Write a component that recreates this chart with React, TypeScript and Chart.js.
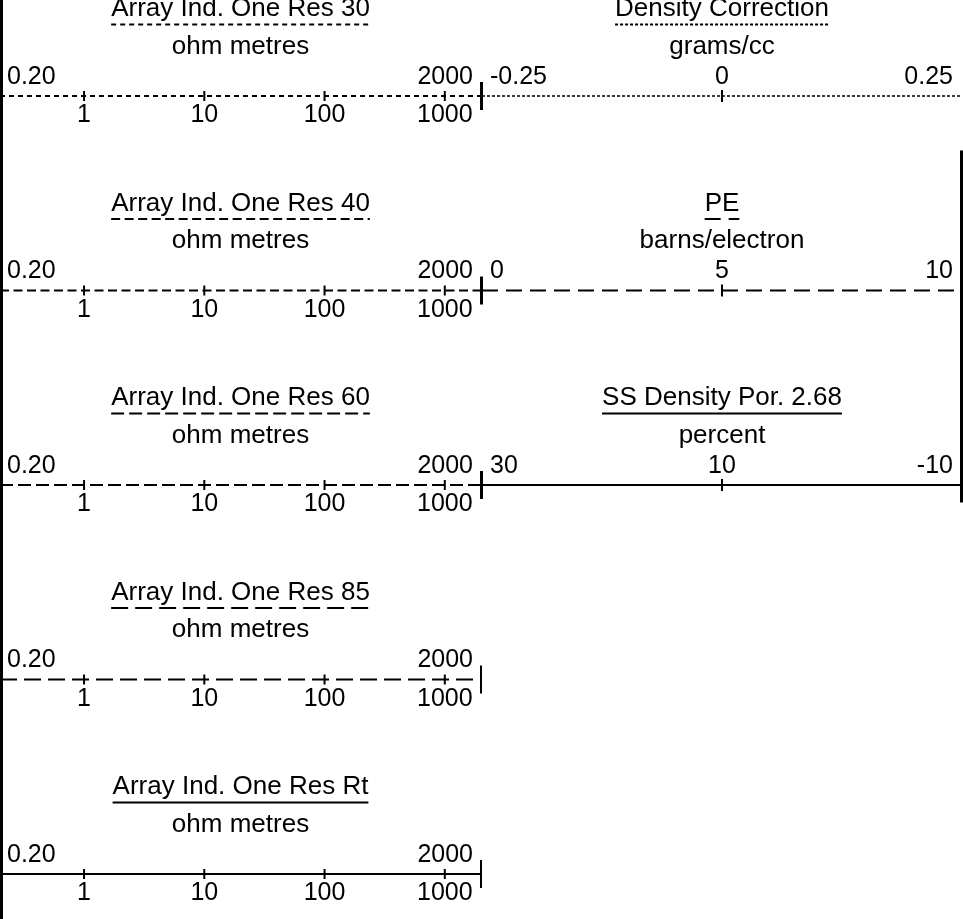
import React, { useEffect, useRef } from "react";
import { Chart, registerables } from "chart.js";

Chart.register(...registerables);

const FONT = '"Liberation Sans", Arial, Helvetica, sans-serif';

// ---------- Left track: resistivity curves (logarithmic) ----------
const resTitles = [
  "Array Ind. One Res 30",
  "Array Ind. One Res 40",
  "Array Ind. One Res 60",
  "Array Ind. One Res 85",
  "Array Ind. One Res Rt",
];
const resUnits = ["ohm metres", "ohm metres", "ohm metres", "ohm metres", "ohm metres"];
const resMin = 0.2;
const resMax = 2000;
const resMinLabel = "0.20";
const resMaxLabel = "2000";
const resTicks = [1, 10, 100, 1000];
const resTickLabels = ["1", "10", "100", "1000"];
const resDashes: number[][] = [[5, 4], [9, 4.5], [13, 5], [17, 7], []];
const resWidths = [2, 2, 2, 2, 2];

// ---------- Right track: density / PE / porosity (linear) ----------
const rTitles = ["Density Correction", "PE", "SS Density Por. 2.68"];
const rUnits = ["grams/cc", "barns/electron", "percent"];
const rLeft = [-0.25, 0, 30];
const rRight = [0.25, 10, -10];
const rMid = [0, 5, 10];
const rLeftLabels = ["-0.25", "0", "30"];
const rRightLabels = ["0.25", "10", "-10"];
const rMidLabels = ["0", "5", "10"];
const rDashes: number[][] = [[3, 2], [16, 8], []];
const rWidths = [1.5, 2, 2];

// right border of the right track spans these row positions
const rBorderRows = [0.28, 2.09];

const ROW_MIN = 0;
const ROW_MAX = 4;

const TITLE_FONT = `26px ${FONT}`;
const NUM_FONT = `25px ${FONT}`;

function drawHeader(
  ctx: CanvasRenderingContext2D,
  cx: number,
  L: number,
  title: string,
  unit: string,
  dash: number[],
  width: number
) {
  ctx.save();
  ctx.fillStyle = "#000";
  ctx.strokeStyle = "#000";
  ctx.textBaseline = "alphabetic";
  ctx.font = TITLE_FONT;
  ctx.textAlign = "center";
  ctx.fillText(title, cx, L - 80);
  const w = ctx.measureText(title).width;
  ctx.beginPath();
  ctx.setLineDash(dash);
  ctx.lineWidth = Math.max(width, 2);
  ctx.moveTo(cx - w / 2, L - 71.5);
  ctx.lineTo(cx + w / 2, L - 71.5);
  ctx.stroke();
  ctx.setLineDash([]);
  ctx.fillText(unit, cx, L - 42.5);
  ctx.restore();
}

const leftTextPlugin = {
  id: "leftText",
  afterDatasetsDraw(chart: any) {
    const ctx = chart.ctx as CanvasRenderingContext2D;
    const x = chart.scales.x;
    const y = chart.scales.y;
    const cx = (x.left + x.right) / 2;
    ctx.save();
    // left border of the log
    ctx.fillStyle = "#000";
    ctx.fillRect(x.left, 0, 3, chart.height);
    resTitles.forEach((t, i) => {
      const L = y.getPixelForValue(i);
      drawHeader(ctx, cx, L, t, resUnits[i], resDashes[i], resWidths[i]);
      ctx.fillStyle = "#000";
      ctx.font = NUM_FONT;
      ctx.textBaseline = "alphabetic";
      ctx.textAlign = "left";
      ctx.fillText(resMinLabel, x.getPixelForValue(resMin) + 7, L - 12.5);
      ctx.textAlign = "right";
      ctx.fillText(resMaxLabel, x.getPixelForValue(resMax) - 8, L - 12.5);
      ctx.textAlign = "center";
      resTicks.forEach((v, k) => {
        ctx.fillText(resTickLabels[k], x.getPixelForValue(v), L + 26);
      });
    });
    ctx.restore();
  },
};

const rightTextPlugin = {
  id: "rightText",
  afterDatasetsDraw(chart: any) {
    const ctx = chart.ctx as CanvasRenderingContext2D;
    const y = chart.scales.y;
    const area = chart.chartArea;
    ctx.save();
    ctx.fillStyle = "#000";
    const yt = y.getPixelForValue(rBorderRows[0]);
    const yb = y.getPixelForValue(rBorderRows[1]);
    ctx.fillRect(area.right - 2, yt, 3, yb - yt);
    rTitles.forEach((t, i) => {
      const x = chart.scales["x" + i];
      const L = y.getPixelForValue(i);
      const cx = (x.left + x.right) / 2;
      drawHeader(ctx, cx, L, t, rUnits[i], rDashes[i], rWidths[i]);
      ctx.fillStyle = "#000";
      ctx.font = NUM_FONT;
      ctx.textBaseline = "alphabetic";
      ctx.textAlign = "left";
      ctx.fillText(rLeftLabels[i], x.getPixelForValue(rLeft[i]) + 8, L - 12.5);
      ctx.textAlign = "right";
      ctx.fillText(rRightLabels[i], x.getPixelForValue(rRight[i]) - 9, L - 12.5);
      ctx.textAlign = "center";
      ctx.fillText(rMidLabels[i], x.getPixelForValue(rMid[i]), L - 12.5);
    });
    ctx.restore();
  },
};

const tickStyle = {
  type: "scatter" as const,
  showLine: false,
  pointStyle: "line" as const,
  rotation: 90,
  borderColor: "#000",
  backgroundColor: "#000",
  pointBorderWidth: 2,
  clip: false as const,
};

function buildLeft(canvas: HTMLCanvasElement) {
  const datasets: any[] = [];
  resTitles.forEach((_, i) => {
    datasets.push({
      type: "scatter",
      data: [
        { x: resMin, y: i },
        { x: resMax, y: i },
      ],
      showLine: true,
      borderColor: "#000",
      borderWidth: resWidths[i],
      borderDash: resDashes[i],
      pointRadius: 0,
      clip: false,
    });
  });
  const tickPts: any[] = [];
  const endPts: any[] = [];
  resTitles.forEach((_, i) => {
    resTicks.forEach((v) => tickPts.push({ x: v, y: i }));
    endPts.push({ x: resMax, y: i });
  });
  datasets.push({ ...tickStyle, data: tickPts, pointRadius: 5 });
  datasets.push({ ...tickStyle, data: endPts, pointRadius: 14 });

  return new Chart(canvas, {
    type: "scatter",
    data: { datasets },
    plugins: [leftTextPlugin],
    options: {
      animation: false,
      responsive: false,
      devicePixelRatio: 1,
      events: [],
      layout: { autoPadding: false, padding: { left: 0, right: 1, top: 96, bottom: 45 } },
      plugins: { legend: { display: false }, tooltip: { enabled: false } },
      scales: {
        x: { type: "logarithmic", min: resMin, max: resMax, display: false },
        y: { type: "linear", min: ROW_MIN, max: ROW_MAX, reverse: true, display: false },
      },
    } as any,
  });
}

function buildRight(canvas: HTMLCanvasElement) {
  const datasets: any[] = [];
  const scales: any = {
    y: { type: "linear", min: ROW_MIN, max: ROW_MAX, reverse: true, display: false },
  };
  rTitles.forEach((_, i) => {
    const lo = Math.min(rLeft[i], rRight[i]);
    const hi = Math.max(rLeft[i], rRight[i]);
    scales["x" + i] = {
      type: "linear",
      axis: "x",
      position: "bottom",
      min: lo,
      max: hi,
      reverse: rLeft[i] > rRight[i],
      display: false,
    };
    datasets.push({
      type: "scatter",
      xAxisID: "x" + i,
      data: [
        { x: rLeft[i], y: i },
        { x: rRight[i], y: i },
      ],
      showLine: true,
      borderColor: "#000",
      borderWidth: rWidths[i],
      borderDash: rDashes[i],
      pointRadius: 0,
      clip: false,
    });
    datasets.push({ ...tickStyle, xAxisID: "x" + i, data: [{ x: rMid[i], y: i }], pointRadius: 6 });
    datasets.push({ ...tickStyle, xAxisID: "x" + i, data: [{ x: rLeft[i], y: i }], pointRadius: 14 });
  });

  return new Chart(canvas, {
    type: "scatter",
    data: { datasets },
    plugins: [rightTextPlugin],
    options: {
      animation: false,
      responsive: false,
      devicePixelRatio: 1,
      events: [],
      layout: { autoPadding: false, padding: { left: 0, right: 1, top: 96, bottom: 45 } },
      plugins: { legend: { display: false }, tooltip: { enabled: false } },
      scales,
    } as any,
  });
}

export default function App() {
  const leftRef = useRef<HTMLCanvasElement>(null);
  const rightRef = useRef<HTMLCanvasElement>(null);

  useEffect(() => {
    if (!leftRef.current || !rightRef.current) return;
    const a = buildLeft(leftRef.current);
    const b = buildRight(rightRef.current);
    return () => {
      a.destroy();
      b.destroy();
    };
  }, []);

  return (
    <div
      style={{
        position: "fixed",
        left: 0,
        top: 0,
        width: 963,
        height: 919,
        display: "flex",
        background: "#fff",
      }}
    >
      <canvas ref={leftRef} width={482} height={919} style={{ display: "block", width: 482, height: 919 }} />
      <canvas ref={rightRef} width={481} height={919} style={{ display: "block", width: 481, height: 919 }} />
    </div>
  );
}
